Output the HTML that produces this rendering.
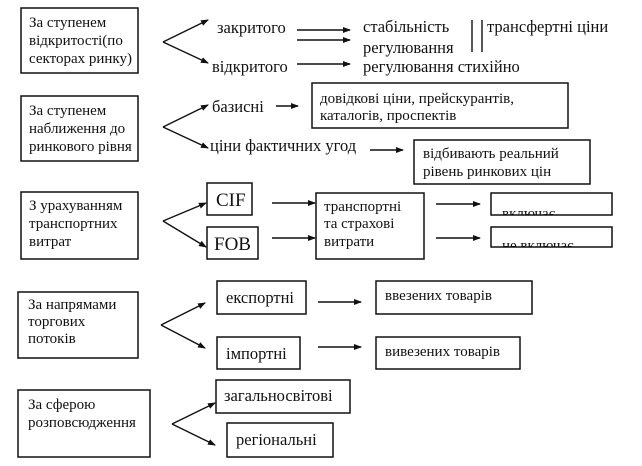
<!DOCTYPE html>
<html><head><meta charset="utf-8"><style>
html,body{margin:0;padding:0;background:#fff;}
svg{display:block;}
text{font-family:"Liberation Serif",serif;fill:#111;}
.s{font-size:15px;}
.m{font-size:16.5px;}
.l{font-size:19px;}
rect{fill:none;stroke:#111;stroke-width:1.5;}
line{stroke:#111;stroke-width:1.4;}
</style></head><body>
<svg width="642" height="466" viewBox="0 0 642 466" xmlns="http://www.w3.org/2000/svg">
<defs>
<marker id="a" markerWidth="8" markerHeight="8" refX="7" refY="4" orient="auto" markerUnits="userSpaceOnUse">
<path d="M0,1 L8,4 L0,7 z" fill="#111"/></marker>
<clipPath id="c1"><rect x="491" y="193" width="121" height="22"/></clipPath>
<clipPath id="c2"><rect x="491" y="227" width="121" height="20"/></clipPath>
</defs>

<!-- Row 1 -->
<rect x="21" y="8" width="117" height="65"/>
<text class="s" x="29" y="27">За ступенем</text>
<text class="s" x="29" y="45">відкритості(по</text>
<text class="s" x="29" y="63">секторах ринку)</text>
<line x1="163" y1="42" x2="208" y2="20" marker-end="url(#a)"/>
<line x1="163" y1="42" x2="208" y2="63" marker-end="url(#a)"/>
<text class="m" x="217" y="33">закритого</text>
<text class="m" x="212" y="72">відкритого</text>
<line x1="297" y1="30" x2="350" y2="30" marker-end="url(#a)"/>
<line x1="297" y1="40" x2="350" y2="40" marker-end="url(#a)"/>
<line x1="297" y1="64" x2="350" y2="64" marker-end="url(#a)"/>
<text class="m" x="363" y="32">стабільність</text>
<text class="m" x="363" y="53">регулювання</text>
<text class="m" x="363" y="72">регулювання стихійно</text>
<line x1="472" y1="20" x2="472" y2="52"/>
<line x1="482" y1="20" x2="482" y2="52"/>
<text class="m" x="487" y="32">трансфертні ціни</text>

<!-- Row 2 -->
<rect x="21" y="96" width="117" height="65"/>
<text class="s" x="29" y="115">За ступенем</text>
<text class="s" x="29" y="133">наближення до</text>
<text class="s" x="29" y="151">ринкового рівня</text>
<line x1="163" y1="127" x2="208" y2="105" marker-end="url(#a)"/>
<line x1="163" y1="127" x2="208" y2="148" marker-end="url(#a)"/>
<text class="m" x="212" y="112">базисні</text>
<line x1="276" y1="106" x2="298" y2="106" marker-end="url(#a)"/>
<rect x="312" y="83" width="256" height="45"/>
<text class="s" x="320" y="103">довідкові ціни, прейскурантів,</text>
<text class="s" x="320" y="120">каталогів, проспектів</text>
<text class="m" x="210" y="151">ціни фактичних угод</text>
<line x1="370" y1="150" x2="403" y2="150" marker-end="url(#a)"/>
<rect x="414" y="140" width="176" height="44"/>
<text class="s" x="423" y="158">відбивають реальний</text>
<text class="s" x="423" y="176">рівень ринкових цін</text>

<!-- Row 3 -->
<rect x="21" y="192" width="117" height="67"/>
<text class="s" x="29" y="210">З урахуванням</text>
<text class="s" x="29" y="228">транспортних</text>
<text class="s" x="29" y="246">витрат</text>
<line x1="163" y1="221" x2="206" y2="203" marker-end="url(#a)"/>
<line x1="163" y1="221" x2="206" y2="247" marker-end="url(#a)"/>
<rect x="207" y="183" width="45" height="32"/>
<text class="l" x="216" y="206">CIF</text>
<rect x="207" y="227" width="51" height="32"/>
<text class="l" x="214" y="250">FOB</text>
<line x1="272" y1="203" x2="315" y2="203" marker-end="url(#a)"/>
<line x1="272" y1="238" x2="315" y2="238" marker-end="url(#a)"/>
<rect x="316" y="193" width="108" height="66"/>
<text class="s" x="324" y="211">транспортні</text>
<text class="s" x="324" y="228">та страхові</text>
<text class="s" x="324" y="246">витрати</text>
<line x1="436" y1="204" x2="480" y2="204" marker-end="url(#a)"/>
<line x1="436" y1="238" x2="480" y2="238" marker-end="url(#a)"/>
<rect x="491" y="193" width="121" height="22"/>
<text class="s" x="502" y="218" clip-path="url(#c1)">включає</text>
<rect x="491" y="227" width="121" height="20"/>
<text class="s" x="502" y="250" clip-path="url(#c2)">не включає</text>

<!-- Row 4 -->
<rect x="18" y="292" width="120" height="66"/>
<text class="s" x="28" y="309">За напрямами</text>
<text class="s" x="28" y="326">торгових</text>
<text class="s" x="28" y="343">потоків</text>
<line x1="161" y1="325" x2="205" y2="303" marker-end="url(#a)"/>
<line x1="161" y1="325" x2="205" y2="348" marker-end="url(#a)"/>
<rect x="217" y="281" width="89" height="33"/>
<text class="m" x="226" y="303">експортні</text>
<rect x="217" y="337" width="83" height="32"/>
<text class="m" x="226" y="359">імпортні</text>
<line x1="318" y1="302" x2="361" y2="302" marker-end="url(#a)"/>
<line x1="318" y1="347" x2="361" y2="347" marker-end="url(#a)"/>
<rect x="376" y="281" width="156" height="33"/>
<text class="s" x="385" y="300">ввезених товарів</text>
<rect x="376" y="337" width="144" height="32"/>
<text class="s" x="385" y="356">вивезених товарів</text>

<!-- Row 5 -->
<rect x="18" y="390" width="132" height="67"/>
<text class="s" x="28" y="409">За сферою</text>
<text class="s" x="28" y="427">розповсюдження</text>
<line x1="172" y1="424" x2="215" y2="403" marker-end="url(#a)"/>
<line x1="172" y1="424" x2="215" y2="445" marker-end="url(#a)"/>
<rect x="216" y="380" width="134" height="33"/>
<text class="m" x="224" y="401">загальносвітові</text>
<rect x="227" y="423" width="106" height="34"/>
<text class="m" x="236" y="445">регіональні</text>
</svg>
</body></html>
